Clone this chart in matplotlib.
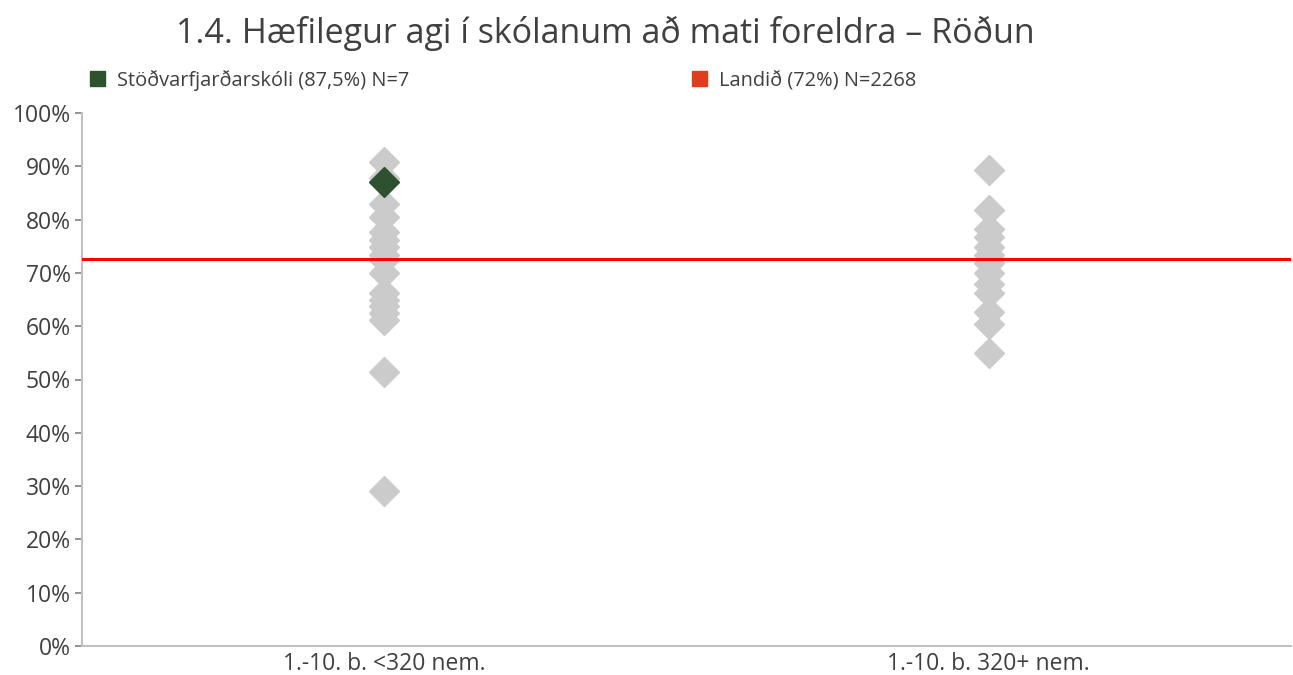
import matplotlib
matplotlib.use("Agg")
import matplotlib.pyplot as plt
from matplotlib.patches import Rectangle

plt.rcParams['font.family'] = ['Open Sans', 'DejaVu Sans']

title = "1.4. Hæfilegur agi í skólanum að mati foreldra – Röðun"
categories = ["1.-10. b. <320 nem.", "1.-10. b. 320+ nem."]
group1_values = [90.9, 87.8, 83.0, 80.5, 77.7, 76.2, 74.9, 73.4, 72.4, 70.0,
                 66.2, 64.9, 63.7, 62.5, 61.2, 51.5, 29.0]
group2_values = [89.3, 81.8, 78.3, 76.8, 74.9, 73.4, 71.8, 69.9, 68.0, 66.2,
                 62.7, 60.5, 54.9]
school_category = 0
school_value = 87.0
national_value = 72.6
legend_labels = ["Stöðvarfjarðarskóli (87,5%) N=7", "Landið (72%) N=2268"]
yticks = list(range(0, 101, 10))

fig = plt.figure(figsize=(12.93, 6.75), dpi=100)
ax = fig.add_axes([82/1293, 29/675, (1291-82)/1293, (646-113)/675])

gray = "#CBCBCB"
green = "#2E5230"
ms = 15
ax.plot([0]*len(group1_values), group1_values, linestyle='none', marker='D',
        ms=ms, color=gray, mec=gray, zorder=2)
ax.plot([1]*len(group2_values), group2_values, linestyle='none', marker='D',
        ms=ms, color=gray, mec=gray, zorder=2)
ax.axhline(national_value, color='#FF0000', lw=2.2, zorder=3)
ax.plot([school_category], [school_value], linestyle='none', marker='D',
        ms=ms, color=green, mec=green, zorder=4)

ax.set_xlim(-0.5, 1.5)
ax.set_ylim(0, 100)
ax.set_yticks(yticks)
ax.set_yticklabels([f"{t}%" for t in yticks])
ax.set_xticks([0, 1])
ax.set_xticklabels(categories)
for s in ['top', 'right']:
    ax.spines[s].set_visible(False)
for s in ['left', 'bottom']:
    ax.spines[s].set_color('#C0C0C0')
    ax.spines[s].set_linewidth(1.5)
ax.tick_params(axis='y', length=5, width=1.2, color='#808080',
               labelsize=16.5, labelcolor='#404040', pad=3)
ax.tick_params(axis='x', length=0, labelsize=16.5, labelcolor='#404040', pad=4)

fig.text(605/1293, 1 - 33/675, title, ha='center', va='center',
         fontsize=24.5, color='#404040')

# legend
leg_y = 1 - 78/675
fig.patches.append(Rectangle((90/1293, leg_y - 8/675), 15/1293, 15/675,
                             transform=fig.transFigure, color=green))
fig.text(117/1293, leg_y - 3/675, legend_labels[0], ha='left', va='center',
         fontsize=14.4, color='#404040')
fig.patches.append(Rectangle((692/1293, leg_y - 8/675), 15/1293, 15/675,
                             transform=fig.transFigure, color='#E03C1E'))
fig.text(719/1293, leg_y - 3/675, legend_labels[1], ha='left', va='center',
         fontsize=14.4, color='#404040')

fig.savefig("out.png", dpi=100)
